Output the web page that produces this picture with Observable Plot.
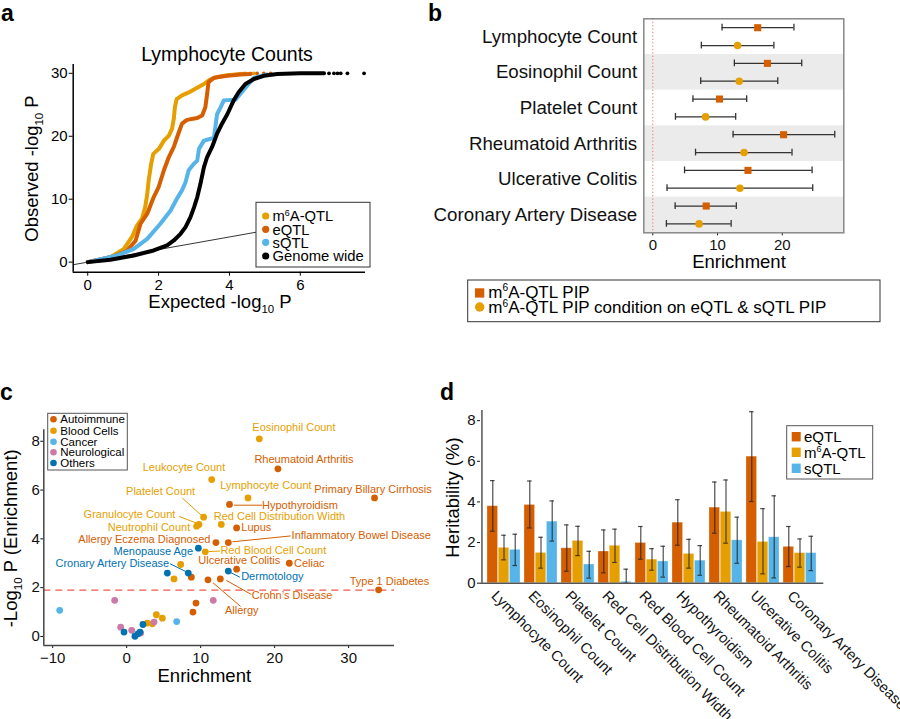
<!DOCTYPE html>
<html><head><meta charset="utf-8">
<script src="https://cdn.jsdelivr.net/npm/d3@7"></script>
<script src="https://cdn.jsdelivr.net/npm/@observablehq/plot@0.6"></script>
<style>
body{margin:0;background:#fff;}
#fig{position:relative;width:900px;height:719px;overflow:hidden;background:#fff;}
</style></head><body><div id="fig"></div>
<script>
// ---------------- DATA ----------------
// Panel a: QQ curves [expected, observed]
const qqM6A = [[0,0],[0.64,0.8],[1.02,2.1],[1.25,4.0],[1.39,5.8],[1.53,6.9],[1.62,8.7],[1.68,10.8],[1.72,13.0],[1.79,15.6],[1.85,17.2],[2.01,18.0],[2.15,19.3],[2.29,20.1],[2.38,21.2],[2.43,22.8],[2.46,24.6],[2.51,25.9],[2.66,26.5],[2.9,27.1],[3.09,27.7],[3.28,28.3],[3.42,28.9],[3.65,29.4],[3.94,29.7],[4.31,29.9],[4.45,29.95]];
const qqEQTL = [[0,0],[0.73,0.9],[1.1,1.75],[1.35,3.4],[1.49,6.1],[1.68,7.7],[1.86,10.3],[2.0,11.9],[2.15,14.6],[2.29,16.7],[2.43,18.3],[2.52,19.8],[2.57,20.6],[2.66,22.0],[2.8,22.6],[3.09,22.9],[3.23,23.3],[3.32,24.6],[3.37,26.7],[3.41,28.6],[3.56,29.3],[3.94,29.6],[4.31,29.8],[4.6,29.9]];
const qqSQTL = [[0,0],[0.83,1.06],[1.3,2.1],[1.68,3.7],[2.05,6.1],[2.34,8.2],[2.52,10.1],[2.66,11.4],[2.76,12.7],[2.85,14.6],[2.99,15.6],[3.09,16.1],[3.14,18.0],[3.28,19.3],[3.47,19.6],[3.56,19.7],[3.6,21.4],[3.65,23.5],[3.75,24.6],[3.84,25.7],[4.17,25.8],[4.69,29.3],[5.07,29.8]];
const qqGenome = [[0,0],[0.64,0.37],[1.3,1.06],[1.86,1.85],[2.24,2.65],[2.43,3.44],[2.62,4.5],[2.76,5.56],[2.9,7.14],[3.0,8.7],[3.09,10.3],[3.18,12.4],[3.28,15.1],[3.37,16.7],[3.51,18.3],[3.65,20.4],[3.79,22.0],[3.94,23.5],[4.12,25.7],[4.26,27.0],[4.45,28.3],[4.69,29.1],[4.97,29.6],[5.35,29.9],[6.0,30],[6.67,30]];
const tailM6A = [[4.6,30],[4.69,30]];
const tailEQTL = [[4.78,30],[4.97,30],[5.16,30]];
const tailGenome = [[6.81,30],[6.95,30],[7.05,30],[7.14,30],[7.33,30],[7.8,30]];
const xDomA = [-0.41, 7.84];
const yDomA = [-1.6, 31.4];

// Panel b: enrichment estimates
const bCats = ["Lymphocyte Count","Eosinophil Count","Platelet Count","Rheumatoid Arthritis","Ulcerative Colitis","Coronary Artery Disease"];
const bPipEst = [16.2,17.7,10.3,20.2,14.7,8.25];
const bPipLo  = [10.7,12.6,6.2,12.4,4.9,3.45];
const bPipHi  = [21.8,23.0,14.5,28.1,24.6,12.9];
const bCondEst = [13.1,13.35,8.15,14.1,13.45,7.15];
const bCondLo  = [7.5,7.4,3.5,6.6,2.2,2.1];
const bCondHi  = [18.7,19.3,12.8,21.5,24.7,12.1];
const xDomB = [-1.39, 29.5];

// Panel c: trait enrichment scatter
const cGroups = ["Autoimmune","Blood Cells","Cancer","Neurological","Others"];
const cColors = ["#D55E00","#E69F00","#56B4E9","#CC79A7","#0072B2"];
const cTrait = ["Rheumatoid Arthritis","Primary Billary Cirrhosis","Hypothyroidism","Lupus","Allergy Eczema Diagnosed","Inflammatory Bowel Disease","Celiac","Ulcerative Colitis","Crohn's Disease","Allergy","Type 1 Diabetes","","","",
  "Eosinophil Count","Leukocyte Count","Lymphocyte Count","Platelet Count","Granulocyte Count","Neutrophil Count","Red Cell Distribution Width","Red Blood Cell Count","","","","","","",
  "","",
  "","","","","","",
  "Menopause Age","Cronary Artery Disease","","Dermotology","","","","",""];
const cGroup = ["Autoimmune","Autoimmune","Autoimmune","Autoimmune","Autoimmune","Autoimmune","Autoimmune","Autoimmune","Autoimmune","Autoimmune","Autoimmune","Autoimmune","Autoimmune","Autoimmune",
  "Blood Cells","Blood Cells","Blood Cells","Blood Cells","Blood Cells","Blood Cells","Blood Cells","Blood Cells","Blood Cells","Blood Cells","Blood Cells","Blood Cells","Blood Cells","Blood Cells",
  "Cancer","Cancer",
  "Neurological","Neurological","Neurological","Neurological","Neurological","Neurological",
  "Others","Others","Others","Others","Others","Others","Others","Others","Others"];
const cEnrich = [20.45,33.5,13.9,14.86,12.07,13.74,21.98,14.86,12.66,10.99,34.05,8.74,9.37,8.96,
  17.93,11.49,16.4,10.4,9.77,9.46,12.79,10.63,7.3,6.4,4.01,4.82,2.8,3.47,
  -9.05,6.76,
  -1.62,11.7,-0.81,0.68,3.7,1.89,
  9.69,8.33,5.5,13.74,-0.36,2.2,1.12,1.53,1.8];
const cLogP = [6.87,5.68,5.41,4.45,3.85,3.85,3.0,2.76,2.36,2.32,1.91,2.43,1.37,1.0,
  8.10,6.43,5.68,4.89,4.59,4.52,4.59,3.47,2.95,2.36,0.89,0.75,0.55,0.52,
  1.07,0.61,
  1.48,1.48,0.38,0.25,0.59,0.14,
  3.62,2.6,2.6,2.68,0.18,0.49,0.01,0.11,0.18];
// label anchor (centre of text) in data units
const cLabelName = ["Eosinophil Count","Rheumatoid Arthritis","Leukocyte Count","Lymphocyte Count","Primary Billary Cirrhosis","Platelet Count","Hypothyroidism","Granulocyte Count","Red Cell Distribution Width","Neutrophil Count","Lupus","Allergy Eczema Diagnosed","Inflammatory Bowel Disease","Menopause Age","Red Blood Cell Count","Cronary Artery Disease","Ulcerative Colitis","Celiac","Dermotology","Type 1 Diabetes","Crohn’s Disease","Allergy"];
const cLabelGroup = ["Blood Cells","Autoimmune","Blood Cells","Blood Cells","Autoimmune","Blood Cells","Autoimmune","Blood Cells","Blood Cells","Blood Cells","Autoimmune","Autoimmune","Autoimmune","Others","Blood Cells","Others","Autoimmune","Autoimmune","Others","Autoimmune","Autoimmune","Autoimmune"];
const cLabelX = [22.61,23.96,7.75,18.83,33.3,4.59,23.42,0.38,20.65,3.02,17.52,2.39,31.71,3.6,19.82,-1.94,15.22,24.68,19.69,35.52,22.35,15.56];
const cLabelY = [8.58,7.24,6.91,6.17,6.04,5.96,5.38,5.0,4.92,4.48,4.45,3.96,4.14,3.47,3.52,3.0,3.1,2.98,2.46,2.27,1.69,1.07];
// leader lines [x1,y1,x2,y2]
const cLeaderGroup = ["Blood Cells","Blood Cells","Autoimmune","Autoimmune","Blood Cells","Others","Others","Autoimmune","Autoimmune"];
const cLeaderSeg = [[7.5,5.68,10.15,4.95],[7.07,4.92,9.5,4.64],[14.5,5.38,18.3,5.38],[14.3,3.88,22.16,4.12],[11.1,3.48,12.6,3.5],[5.86,2.98,8.0,2.66],[14.05,2.62,15.3,2.43],[13.47,2.3,16.85,1.72],[11.67,2.2,15.4,1.23]];
const cThreshold = 1.9;
const xDomC = [-11.2, 36.2];
const yDomC = [-0.37, 8.47];

// Panel d: heritability
const dTraits = ["Lymphocyte Count","Eosinophil Count","Platelet Count","Red Cell Distribution Width","Red Blood Cell Count","Hypothyroidism","Rheumatoid Arthritis","Ulcerative Colitis","Coronary Artery Disease"];
const dTypes = ["eQTL","m6A-QTL","sQTL"];
const dTypeColors = ["#D55E00","#E69F00","#56B4E9"];
const dEqtl   = [3.79,3.85,1.72,1.56,1.98,2.98,3.72,6.23,1.79];
const dEqtlLo = [2.56,2.72,0.59,0.51,1.18,1.87,2.46,4.02,0.82];
const dEqtlHi = [5.05,5.03,2.87,2.62,2.79,4.11,4.98,8.44,2.79];
const dM6a    = [1.74,1.49,2.08,1.84,1.16,1.44,3.51,2.03,1.48];
const dM6aLo  = [1.15,0.74,1.36,1.02,0.64,0.74,1.97,0.46,0.79];
const dM6aHi  = [2.36,2.26,2.80,2.66,1.70,2.16,5.08,3.67,2.18];
const dSqtl   = [1.64,3.03,0.92,0.07,1.07,1.11,2.11,2.26,1.48];
const dSqtlLo = [0.87,2.07,0.25,0.0,0.30,0.39,0.98,0.26,0.62];
const dSqtlHi = [2.41,4.05,1.57,0.69,1.82,1.85,3.25,4.30,2.31];
const yDomD = [0, 8.5];

// ---------------- RENDER ----------------
const FONT = '"Liberation Sans", Arial, Helvetica, sans-serif';
const fig = document.getElementById("fig");
function place(el, left, top) {
  el.style.position = "absolute";
  el.style.left = left + "px";
  el.style.top = top + "px";
  el.style.maxWidth = "none";
  el.style.overflow = "visible";
  fig.appendChild(el);
}
const st = (fs, color="#111") => ({fontSize: fs + "px", fontFamily: FONT, color, background: "transparent", overflow: "visible"});
const px = d => d[0], py = d => d[1];

// ---- Panel a ----
const aSeries = [
  {pts: qqM6A, tail: tailM6A, color: "#E69F00"},
  {pts: qqEQTL, tail: tailEQTL, color: "#D55E00"},
  {pts: qqSQTL, tail: [], color: "#56B4E9"},
  {pts: qqGenome, tail: tailGenome, color: "#000000"}
];
const plotA = Plot.plot({
  width: 380, height: 290,
  marginLeft: 72.7, marginRight: 15, marginTop: 64, marginBottom: 18.3,
  style: st(15, "#000"),
  x: {domain: xDomA, ticks: [0,2,4,6], tickSize: 4, tickPadding: 3, label: null},
  y: {domain: yDomA, ticks: [0,10,20,30], tickSize: 4, tickPadding: 1.5, label: null},
  marks: [
    Plot.link([xDomA], {x1: d => d[0], y1: d => d[0], x2: d => d[1], y2: d => d[1], stroke: "#000", strokeWidth: 0.8}),
    ...aSeries.flatMap(s => [
      Plot.line(s.pts, {x: px, y: py, stroke: s.color, strokeWidth: 4, strokeLinejoin: "round", strokeLinecap: "round"}),
      Plot.dot(s.tail, {x: px, y: py, r: 1.9, fill: s.color})
    ]),
    Plot.ruleX([xDomA[0]], {stroke: "#000", strokeWidth: 1.5}),
    Plot.ruleY([yDomA[0]], {stroke: "#000", strokeWidth: 1.5})
  ]
});
place(plotA, 0, 0);

// ---- Panel b ----
const bRows = [];
bCats.forEach((c, i) => {
  bRows.push({cat: c, kind: "pip", est: bPipEst[i], lo: bPipLo[i], hi: bPipHi[i], pos: i + 0.25});
  bRows.push({cat: c, kind: "cond", est: bCondEst[i], lo: bCondLo[i], hi: bCondHi[i], pos: i + 0.75});
});
const plotB = Plot.plot({
  width: 520, height: 280,
  marginLeft: 263.3, marginRight: 56.7, marginTop: 18.3, marginBottom: 47.7,
  style: st(15, "#111"),
  x: {domain: xDomB, ticks: [0,10,20], tickSize: 3, tickPadding: 4, label: null},
  y: {domain: [0, bCats.length], reverse: true, axis: null},
  marks: [
    Plot.rect(bCats.map((c, i) => i).filter(i => i % 2 === 1), {x1: () => xDomB[0], x2: () => xDomB[1], y1: i => i, y2: i => i + 1, fill: "#ebebeb"}),
    Plot.ruleX([0], {stroke: "#f26d6d", strokeWidth: 1, strokeDasharray: "1.2,2.2"}),
    Plot.ruleY(bRows, {y: "pos", x1: "lo", x2: "hi", stroke: "#333", strokeWidth: 1.3}),
    Plot.ruleX(bRows, {x: "lo", y1: d => d.pos - 0.095, y2: d => d.pos + 0.095, stroke: "#333", strokeWidth: 1.3}),
    Plot.ruleX(bRows, {x: "hi", y1: d => d.pos - 0.095, y2: d => d.pos + 0.095, stroke: "#333", strokeWidth: 1.3}),
    Plot.dot(bRows.filter(d => d.kind === "pip"), {x: "est", y: "pos", symbol: "square", r: 4, fill: "#D55E00"}),
    Plot.dot(bRows.filter(d => d.kind === "cond"), {x: "est", y: "pos", symbol: "circle", r: 3.8, fill: "#E69F00"}),
    Plot.frame({stroke: "#888", strokeWidth: 1.5}),
    Plot.text(bCats, {y: (d, i) => i + 0.5, text: d => d, frameAnchor: "left", textAnchor: "end", dx: -6.6, fontSize: 18.7, fill: "#111"})
  ]
});
place(plotB, 380, 0);

// ---- Panel c ----
const cPoints = cTrait.map((t, i) => ({trait: t, group: cGroup[i], x: cEnrich[i], y: cLogP[i]}));
const cLabels = cLabelName.map((t, i) => ({text: t, group: cLabelGroup[i], x: cLabelX[i], y: cLabelY[i]}));
const cLeaders = cLeaderSeg.map((s, i) => ({group: cLeaderGroup[i], x1: s[0], y1: s[1], x2: s[2], y2: s[3]}));
const plotC = Plot.plot({
  width: 450, height: 310,
  marginLeft: 43.3, marginRight: 56, marginTop: 49.3, marginBottom: 45,
  style: st(15, "#111"),
  color: {domain: cGroups, range: cColors},
  x: {domain: xDomC, ticks: [-10,0,10,20,30], tickSize: 3, tickPadding: 3.5, label: null},
  y: {domain: yDomC, ticks: [0,2,4,6,8], tickSize: 3, tickPadding: 1, label: null},
  marks: [
    Plot.ruleY([cThreshold], {stroke: "#F2594F", strokeWidth: 1.4, strokeDasharray: "7,5"}),
    Plot.link(cLeaders, {x1: "x1", y1: "y1", x2: "x2", y2: "y2", stroke: "group", strokeWidth: 1}),
    Plot.dot(cPoints, {x: "x", y: "y", r: 3.4, fill: "group"}),
    Plot.text(cLabels, {x: "x", y: "y", text: "text", fill: "group", fontSize: 11}),
    Plot.ruleX([xDomC[0]], {stroke: "#444", strokeWidth: 1.5}),
    Plot.ruleY([yDomC[0]], {stroke: "#444", strokeWidth: 1.5})
  ]
});
place(plotC, 0, 380);

// ---- Panel d ----
const dRows = [];
dTraits.forEach((t, i) => {
  dRows.push({trait: t, type: "eQTL", k: 0, v: dEqtl[i], lo: dEqtlLo[i], hi: dEqtlHi[i]});
  dRows.push({trait: t, type: "m6A-QTL", k: 1, v: dM6a[i], lo: dM6aLo[i], hi: dM6aHi[i]});
  dRows.push({trait: t, type: "sQTL", k: 2, v: dSqtl[i], lo: dSqtlLo[i], hi: dSqtlHi[i]});
});
const dW = 450, dML = 30, dMR = 76.7;
const pIn = 0.1, pOut = 0.14;
const dStep = (dW - dML - dMR) / (dTraits.length - pIn + 2 * pOut);
const dBW = dStep * (1 - pIn);
const third = dBW / 3;
const capHalf = 2.6;
const plotD = Plot.plot({
  width: dW, height: 339,
  marginLeft: dML, marginRight: dMR, marginTop: 30, marginBottom: 136.3,
  style: st(15, "#111"),
  x: {type: "band", domain: dTraits, paddingInner: pIn, paddingOuter: pOut, axis: null},
  y: {domain: yDomD, ticks: [0,2,4,6,8], tickSize: 3, tickPadding: 2, label: null},
  marks: [
    ...dTypes.map((ty, k) => Plot.barY(dRows.filter(d => d.k === k), {
      x: "trait", y: "v", fill: dTypeColors[k],
      insetLeft: k * third, insetRight: (2 - k) * third,
      stroke: "#fff", strokeOpacity: 0.35, strokeWidth: 0.8
    })),
    ...dTypes.map((ty, k) => Plot.ruleX(dRows.filter(d => d.k === k), {
      x: "trait", y1: "lo", y2: "hi", dx: (k - 1) * third, stroke: "#222", strokeOpacity: 0.8, strokeWidth: 1.2
    })),
    ...dTypes.flatMap((ty, k) => ["lo", "hi"].map(f => Plot.tickY(dRows.filter(d => d.k === k), {
      x: "trait", y: f, insetLeft: third * (k + 0.5) - capHalf, insetRight: dBW - third * (k + 0.5) - capHalf,
      stroke: "#222", strokeOpacity: 0.8, strokeWidth: 1.2
    }))),
    Plot.ruleY([yDomD[0]], {stroke: "#555", strokeWidth: 1.5}),
    Plot.ruleX([dTraits[0]], {dx: -(pOut * dStep + dBW / 2), stroke: "#555", strokeWidth: 1.5}),
    Plot.text(dTraits, {x: d => d, text: d => d, frameAnchor: "bottom", rotate: 45, textAnchor: "start", lineAnchor: "top", dx: -6, dy: 6, fontSize: 14.8, fill: "#111"})
  ]
});
place(plotD, 450, 380);

// ---- Overlay: titles, axis labels, legends, panel letters ----
const ov = d3.create("svg").attr("width", 900).attr("height", 719)
  .style("position", "absolute").style("left", "0px").style("top", "0px")
  .style("font-family", FONT).style("pointer-events", "none").style("overflow", "visible");
function T(x, y, html, {size = 15, anchor = "start", rotate = 0, weight = "normal", fill = "#000"} = {}) {
  ov.append("text")
    .attr("transform", `translate(${x},${y})` + (rotate ? ` rotate(${rotate})` : ""))
    .attr("text-anchor", anchor).attr("font-size", size).attr("font-weight", weight).attr("fill", fill)
    .html(html);
}
const log10P = (fs) => `-log<tspan font-size="${fs*0.62}" dy="${fs*0.28}">10</tspan><tspan dy="${-fs*0.28}"> P</tspan>`;
const m6A = (fs) => `m<tspan font-size="${fs*0.6}" dy="${-fs*0.38}">6</tspan><tspan dy="${fs*0.38}">A-QTL</tspan>`;

// panel letters
T(1, 21, "a", {size: 23, weight: "bold"});
T(428, 21, "b", {size: 23, weight: "bold"});
T(0, 400, "c", {size: 23, weight: "bold"});
T(440, 400, "d", {size: 23, weight: "bold"});

// panel a texts
T(227, 60.5, "Lymphocyte Counts", {size: 19.5, anchor: "middle"});
T(38.3, 168.5, "Observed " + log10P(18.5), {size: 18.5, anchor: "middle", rotate: -90});
T(220, 307.5, "Expected " + log10P(18.5), {size: 18.5, anchor: "middle"});
// legend a
ov.append("rect").attr("x", 256).attr("y", 202.3).attr("width", 114).attr("height", 64.7).attr("fill", "#fff").attr("stroke", "#333").attr("stroke-width", 1);
const aLegLabels = [m6A(14.8), "eQTL", "sQTL", "Genome wide"];
const aLegColors = ["#E69F00", "#D55E00", "#56B4E9", "#000"];
const aLegY = [216, 229.3, 242.3, 256];
aLegLabels.forEach((l, i) => {
  ov.append("circle").attr("cx", 265.7).attr("cy", aLegY[i]).attr("r", 3.6).attr("fill", aLegColors[i]);
  T(272.5, aLegY[i] + 5.2, l, {size: 14.8});
});

// panel b texts
T(739, 268.3, "Enrichment", {size: 18.5, anchor: "middle"});
ov.append("rect").attr("x", 467.7).attr("y", 280).attr("width", 412.3).attr("height", 41.7).attr("fill", "#fff").attr("stroke", "#333").attr("stroke-width", 1);
ov.append("rect").attr("x", 475).attr("y", 288.3).attr("width", 9.3).attr("height", 9.3).attr("fill", "#D55E00");
ov.append("circle").attr("cx", 479.7).attr("cy", 307).attr("r", 4.7).attr("fill", "#E69F00");
T(488.3, 297.6, m6A(17) + " PIP", {size: 17});
T(488.3, 313, m6A(17) + " PIP condition on eQTL &amp; sQTL PIP", {size: 17});

// panel c texts
T(16.7, 538.3, "-Log<tspan font-size=\"11.5\" dy=\"5\">10</tspan><tspan dy=\"-5\"> P (Enrichment)</tspan>", {size: 18.5, anchor: "middle", rotate: -90});
T(204.3, 681.7, "Enrichment", {size: 18.5, anchor: "middle"});
ov.append("rect").attr("x", 47.7).attr("y", 413.3).attr("width", 79.6).attr("height", 56.7).attr("fill", "#fff").attr("stroke", "#555").attr("stroke-width", 1);
const cLegY = [419.3, 430.7, 441.7, 452.3, 463];
cGroups.forEach((g, i) => {
  ov.append("circle").attr("cx", 53.5).attr("cy", cLegY[i]).attr("r", 3.3).attr("fill", cColors[i]);
  T(60.3, cLegY[i] + 4.1, g, {size: 11.5});
});

// panel d texts
T(459.4, 497.5, "Heritability (%)", {size: 18.5, anchor: "middle", rotate: -90});
ov.append("rect").attr("x", 786.7).attr("y", 425.7).attr("width", 86).attr("height", 53.3).attr("fill", "#fff").attr("stroke", "#555").attr("stroke-width", 1);
const dLegY = [436.7, 452.3, 468.3];
const dLegLabels = ["eQTL", m6A(15), "sQTL"];
dLegLabels.forEach((l, i) => {
  ov.append("rect").attr("x", 791.7).attr("y", dLegY[i] - 4.7).attr("width", 9).attr("height", 9.4).attr("fill", dTypeColors[i]);
  T(804, dLegY[i] + 5.3, l, {size: 15});
});

fig.appendChild(ov.node());
</script>
</body></html>
